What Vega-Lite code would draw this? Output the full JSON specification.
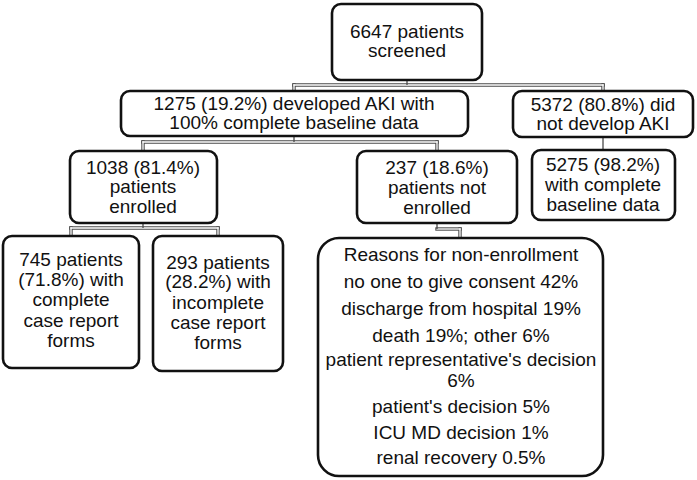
{
  "$schema": "https://vega.github.io/schema/vega-lite/v6.json",
  "width": 697,
  "height": 480,
  "padding": 0,
  "autosize": {"type": "none"},
  "background": "white",
  "config": {"view": {"stroke": null}},
  "datasets": {
    "boxes": [
      {"id": "screened", "x": 332, "x2": 482, "y": 4, "y2": 80, "big": 0},
      {"id": "aki", "x": 121, "x2": 468, "y": 91, "y2": 136, "big": 0},
      {"id": "noaki", "x": 513, "x2": 693, "y": 91, "y2": 137, "big": 0},
      {"id": "enrolled", "x": 70, "x2": 217, "y": 151, "y2": 223, "big": 0},
      {"id": "notenrolled", "x": 357, "x2": 517, "y": 151, "y2": 223, "big": 0},
      {"id": "baseline", "x": 532, "x2": 675, "y": 150, "y2": 220, "big": 0},
      {"id": "complete", "x": 3, "x2": 139, "y": 236, "y2": 368, "big": 0},
      {"id": "incomplete", "x": 153, "x2": 283, "y": 236, "y2": 371, "big": 0},
      {"id": "reasons", "x": 318, "x2": 603, "y": 238, "y2": 476, "big": 1}
    ],
    "lines": [
      {"x": 407, "y": 80, "x2": 407, "y2": 85, "double": 0},
      {"x": 294, "y": 85, "x2": 603, "y2": 85, "double": 1},
      {"x": 294, "y": 85, "x2": 294, "y2": 91, "double": 1},
      {"x": 603, "y": 85, "x2": 603, "y2": 91, "double": 1},
      {"x": 294, "y": 136, "x2": 294, "y2": 142, "double": 0},
      {"x": 143, "y": 142, "x2": 437, "y2": 142, "double": 1},
      {"x": 143, "y": 142, "x2": 143, "y2": 151, "double": 1},
      {"x": 437, "y": 142, "x2": 437, "y2": 151, "double": 1},
      {"x": 603, "y": 137, "x2": 603, "y2": 150, "double": 0},
      {"x": 143, "y": 223, "x2": 143, "y2": 228, "double": 0},
      {"x": 71, "y": 228, "x2": 218, "y2": 228, "double": 1},
      {"x": 71, "y": 228, "x2": 71, "y2": 236, "double": 1},
      {"x": 218, "y": 228, "x2": 218, "y2": 236, "double": 1},
      {"x": 437, "y": 223, "x2": 437, "y2": 229, "double": 0},
      {"x": 437, "y": 229, "x2": 460, "y2": 229, "double": 1},
      {"x": 460, "y": 229, "x2": 460, "y2": 238, "double": 1}
    ],
    "labels": [
      {"x": 407, "y": 32, "text": "6647 patients"},
      {"x": 407, "y": 51, "text": "screened"},
      {"x": 294, "y": 104, "text": "1275 (19.2%) developed AKI with"},
      {"x": 294, "y": 123, "text": "100% complete baseline data"},
      {"x": 603, "y": 105, "text": "5372 (80.8%) did"},
      {"x": 603, "y": 124, "text": "not develop AKI"},
      {"x": 143, "y": 168, "text": "1038 (81.4%)"},
      {"x": 143, "y": 187, "text": "patients"},
      {"x": 143, "y": 207, "text": "enrolled"},
      {"x": 437, "y": 168, "text": "237 (18.6%)"},
      {"x": 437, "y": 188, "text": "patients not"},
      {"x": 437, "y": 208, "text": "enrolled"},
      {"x": 603, "y": 165, "text": "5275 (98.2%)"},
      {"x": 603, "y": 185, "text": "with complete"},
      {"x": 603, "y": 205, "text": "baseline data"},
      {"x": 71, "y": 260, "text": "745 patients"},
      {"x": 71, "y": 280, "text": "(71.8%) with"},
      {"x": 71, "y": 300, "text": "complete"},
      {"x": 71, "y": 321, "text": "case report"},
      {"x": 71, "y": 341, "text": "forms"},
      {"x": 218, "y": 263, "text": "293 patients"},
      {"x": 218, "y": 282, "text": "(28.2%) with"},
      {"x": 218, "y": 303, "text": "incomplete"},
      {"x": 218, "y": 323, "text": "case report"},
      {"x": 218, "y": 343, "text": "forms"},
      {"x": 461, "y": 255, "text": "Reasons for non-enrollment"},
      {"x": 461, "y": 282, "text": "no one to give consent 42%"},
      {"x": 461, "y": 309, "text": "discharge from hospital 19%"},
      {"x": 461, "y": 336, "text": "death 19%; other 6%"},
      {"x": 461, "y": 360, "text": "patient representative's decision"},
      {"x": 461, "y": 381, "text": "6%"},
      {"x": 461, "y": 407, "text": "patient's decision 5%"},
      {"x": 461, "y": 433, "text": "ICU MD decision 1%"},
      {"x": 461, "y": 458, "text": "renal recovery 0.5%"}
    ]
  },
  "layer": [
    {
      "data": {"name": "lines"},
      "transform": [{"filter": "datum.double == 1"}],
      "mark": {"type": "rule", "color": "#4a4a4a", "strokeWidth": 3.4, "strokeCap": "square"},
      "encoding": {
        "x": {"field": "x", "type": "quantitative", "scale": {"domain": [0, 697], "nice": false, "zero": false}, "axis": null},
        "y": {"field": "y", "type": "quantitative", "scale": {"domain": [0, 480], "nice": false, "zero": false, "reverse": true}, "axis": null},
        "x2": {"field": "x2"},
        "y2": {"field": "y2"}
      }
    },
    {
      "data": {"name": "lines"},
      "transform": [{"filter": "datum.double == 1"}],
      "mark": {"type": "rule", "color": "white", "strokeWidth": 1.3, "strokeCap": "square"},
      "encoding": {
        "x": {"field": "x", "type": "quantitative", "axis": null},
        "y": {"field": "y", "type": "quantitative", "axis": null},
        "x2": {"field": "x2"},
        "y2": {"field": "y2"}
      }
    },
    {
      "data": {"name": "lines"},
      "transform": [{"filter": "datum.double == 0"}],
      "mark": {"type": "rule", "color": "#4a4a4a", "strokeWidth": 1.3},
      "encoding": {
        "x": {"field": "x", "type": "quantitative", "axis": null},
        "y": {"field": "y", "type": "quantitative", "axis": null},
        "x2": {"field": "x2"},
        "y2": {"field": "y2"}
      }
    },
    {
      "data": {"name": "boxes"},
      "transform": [{"filter": "datum.big == 0"}],
      "mark": {"type": "rect", "fill": "white", "stroke": "#111111", "strokeWidth": 2.6, "cornerRadius": 9},
      "encoding": {
        "x": {"field": "x", "type": "quantitative", "axis": null},
        "y": {"field": "y", "type": "quantitative", "axis": null},
        "x2": {"field": "x2"},
        "y2": {"field": "y2"}
      }
    },
    {
      "data": {"name": "boxes"},
      "transform": [{"filter": "datum.big == 1"}],
      "mark": {"type": "rect", "fill": "white", "stroke": "#111111", "strokeWidth": 2.6, "cornerRadius": 21},
      "encoding": {
        "x": {"field": "x", "type": "quantitative", "axis": null},
        "y": {"field": "y", "type": "quantitative", "axis": null},
        "x2": {"field": "x2"},
        "y2": {"field": "y2"}
      }
    },
    {
      "data": {"name": "labels"},
      "mark": {"type": "text", "font": "Liberation Sans", "fontSize": 19, "color": "#111111", "align": "center", "baseline": "middle"},
      "encoding": {
        "x": {"field": "x", "type": "quantitative", "axis": null},
        "y": {"field": "y", "type": "quantitative", "axis": null},
        "text": {"field": "text", "type": "nominal"}
      }
    }
  ]
}
